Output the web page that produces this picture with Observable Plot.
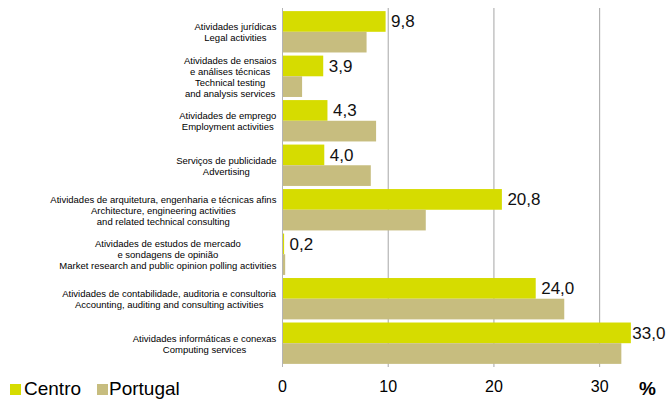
<!DOCTYPE html>
<html>
<head>
<meta charset="utf-8">
<script src="https://cdn.jsdelivr.net/npm/d3@7"></script>
<script src="https://cdn.jsdelivr.net/npm/@observablehq/plot@0.6"></script>
<style>
  html, body { margin: 0; padding: 0; background: #fff; }
  #wrap { position: relative; width: 666px; height: 399px; overflow: hidden; font-family: "Liberation Sans", Arial, sans-serif; }
  #wrap svg { position: absolute; left: 0; top: 0; }
  .lg { position: absolute; font-size: 19px; line-height: 18px; color: #000; white-space: nowrap; }
  .sw { position: absolute; width: 11px; height: 11px; }
  #pct { position: absolute; font-size: 19px; line-height: 18px; font-weight: bold; color: #000; }
</style>
</head>
<body>
<div id="wrap"></div>
<script>
const categories = [
  "Atividades jurídicas\nLegal activities",
  "Atividades de ensaios\ne análises técnicas\nTechnical testing\nand analysis services",
  "Atividades de emprego\nEmployment activities",
  "Serviços de publicidade\nAdvertising",
  "Atividades de arquitetura, engenharia e técnicas afins\nArchitecture, engineering activities\nand related technical consulting",
  "Atividades de estudos de mercado\ne sondagens de opinião\nMarket research and public opinion polling activities",
  "Atividades de contabilidade, auditoria e consultoria\nAccounting, auditing and consulting activities",
  "Atividades informáticas e conexas\nComputing services"
];
const centroValues = [9.8, 3.9, 4.3, 4.0, 20.8, 0.2, 24.0, 33.0];
const portugalValues = [8.0, 1.9, 8.9, 8.4, 13.6, 0.3, 26.7, 32.1];
const seriesNames = ["Centro", "Portugal"];
const xTicks = [0, 10, 20, 30];
const colors = ["#d6dc00", "#c7bd7f"];

const centro = categories.map((c, i) => ({cat: c, value: centroValues[i]}));
const portugal = categories.map((c, i) => ({cat: c, value: portugalValues[i]}));

const base = {
  width: 666, height: 399,
  marginLeft: 282, marginRight: 14, marginTop: 8, marginBottom: 32,
  style: {fontFamily: "'Liberation Sans', Arial, sans-serif", background: "transparent", color: "#000"},
  x: {domain: [0, 35], label: null},
  y: {domain: categories, padding: 0.07, round: false, label: null}
};

const bw = Plot.plot({...base, marks: [Plot.barX(centro, {x: "value", y: "cat"})]}).scale("y").bandwidth;
const fmt = v => v.toFixed(1).replace(".", ",");

const chart = Plot.plot({
  ...base,
  marks: [
    Plot.gridX({ticks: xTicks.filter(t => t > 0), stroke: "#a6a6a6", strokeOpacity: 1}),
    Plot.barX(centro, {x: "value", y: "cat", fill: colors[0], insetBottom: bw / 2}),
    Plot.barX(portugal, {x: "value", y: "cat", fill: colors[1], insetTop: bw / 2}),
    Plot.ruleX([0], {stroke: "#b4b4b4"}),
    Plot.text(centro, {filter: d => d.value < 30, x: "value", y: "cat", text: d => fmt(d.value), dx: 5, dy: -bw / 4, textAnchor: "start", fontSize: 17, fill: "#111"}),
    Plot.text(centro, {filter: d => d.value >= 30, x: "value", y: "cat", text: d => fmt(d.value), dx: 1, dy: -bw / 4, textAnchor: "start", fontSize: 17, fill: "#111"}),
    Plot.axisX({ticks: xTicks, tickSize: 0, tickPadding: 13, fontSize: 16, label: null, tickFormat: d => String(d)}),
    Plot.axisY({tickSize: 0, tickPadding: 6, fontSize: 9.5, lineHeight: 1.15, label: null})
  ]
});

const wrap = document.getElementById("wrap");
wrap.appendChild(chart);

// centre the lines of each category label within its block, keeping the block right-aligned
chart.querySelectorAll('g[aria-label="y-axis tick label"] text').forEach(t => {
  const w = t.getBBox().width;
  t.setAttribute("text-anchor", "middle");
  t.querySelectorAll("tspan").forEach(s => s.setAttribute("x", -w / 2));
});

// legend (bottom-left) and unit label
const legendPos = [{sq: 10, tx: 24}, {sq: 97, tx: 109}];
seriesNames.forEach((name, i) => {
  const sq = document.createElement("div");
  sq.className = "sw";
  sq.style.left = legendPos[i].sq + "px";
  sq.style.top = "384px";
  sq.style.background = colors[i];
  wrap.appendChild(sq);
  const tx = document.createElement("div");
  tx.className = "lg";
  tx.style.left = legendPos[i].tx + "px";
  tx.style.top = "380px";
  tx.textContent = name;
  wrap.appendChild(tx);
});
const pct = document.createElement("div");
pct.id = "pct";
pct.style.left = "639px";
pct.style.top = "380px";
pct.textContent = "%";
wrap.appendChild(pct);
</script>
</body>
</html>
